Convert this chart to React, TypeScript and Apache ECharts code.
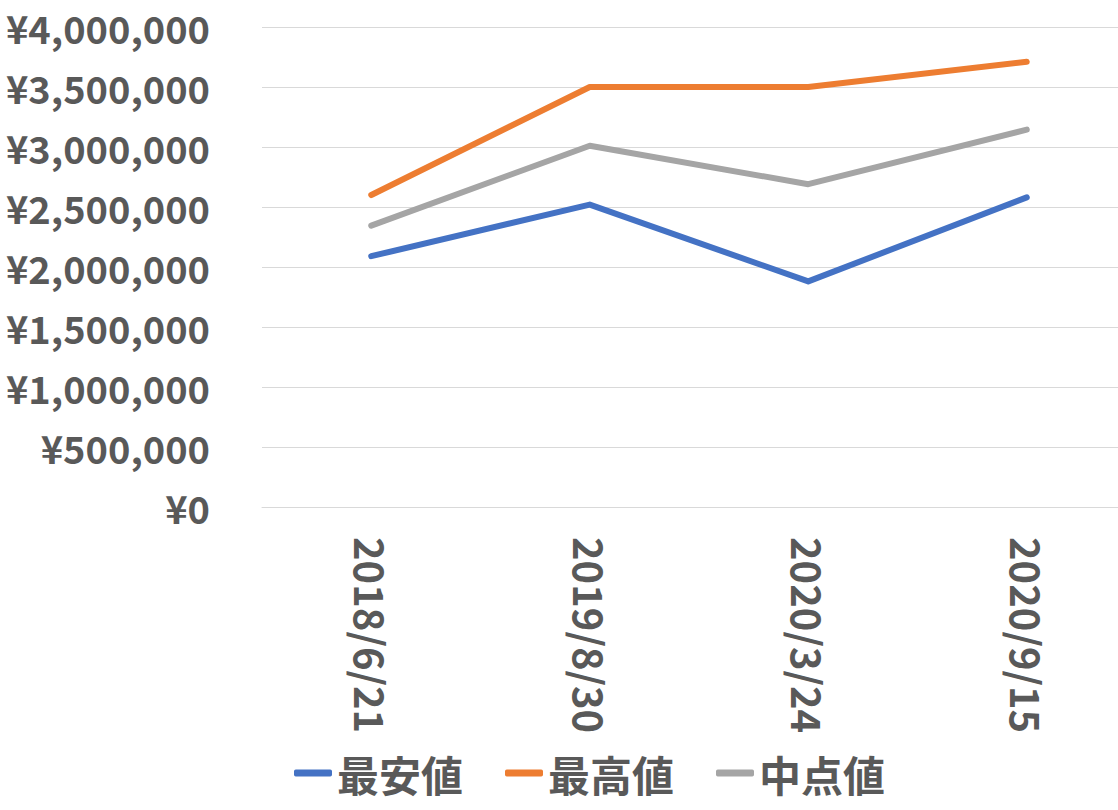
import React, { useEffect, useRef } from "react";
import * as echarts from "echarts";

const categories = ["2018/6/21", "2019/8/30", "2020/3/24", "2020/9/15"];
const seriesNames = ["最安値", "最高値", "中点値"];
const lowValues = [2090000, 2520000, 1880000, 2580000];
const highValues = [2600000, 3500000, 3500000, 3710000];
const midValues = [2345000, 3010000, 2690000, 3145000];
const colors = ["#4472C4", "#ED7D31", "#A5A5A5"];

const FONT = '"Noto Sans CJK JP", "Noto Sans", sans-serif';
const TEXT = "#595959";

export default function App() {
  const ref = useRef<HTMLDivElement>(null);
  useEffect(() => {
    if (!ref.current) return;
    const chart = echarts.init(ref.current, undefined, { renderer: "svg" });
    const data = [lowValues, highValues, midValues];
    chart.setOption({
      animation: false,
      backgroundColor: "#ffffff",
      color: colors,
      grid: { left: 262, right: 4, top: 27, bottom: 303, containLabel: false },
      legend: {
        left: 289,
        top: 747,
        icon: "roundRect",
        itemWidth: 38,
        itemHeight: 7,
        itemGap: 42,
        data: seriesNames,
        textStyle: { color: TEXT, fontSize: 42, fontWeight: "bold", fontFamily: FONT },
      },
      xAxis: {
        type: "category",
        data: categories,
        boundaryGap: true,
        axisLine: { show: true, lineStyle: { color: "#d9d9d9", width: 1 } },
        axisTick: { show: false },
        axisLabel: {
          rotate: -90,
          margin: 30,
          color: TEXT,
          fontSize: 40,
          fontWeight: "bold",
          fontFamily: FONT,
          interval: 0,
        },
      },
      yAxis: {
        type: "value",
        min: 0,
        max: 4000000,
        interval: 500000,
        axisLine: { show: false },
        axisTick: { show: false },
        splitLine: { lineStyle: { color: "#d9d9d9", width: 1 } },
        axisLabel: {
          margin: 52,
          color: TEXT,
          fontSize: 38,
          fontWeight: "bold",
          fontFamily: FONT,
          formatter: (v: number) => "¥" + v.toLocaleString("en-US"),
        },
      },
      series: seriesNames.map((name, i) => ({
        name,
        type: "line",
        data: data[i],
        symbol: "none",
        lineStyle: { width: 6, cap: "round", join: "round", color: colors[i] },
        itemStyle: { color: colors[i] },
      })),
    });
    return () => chart.dispose();
  }, []);
  return (
    <div
      style={{
        position: "fixed",
        left: 0,
        top: 0,
        width: 1118,
        height: 810,
        overflow: "hidden",
        background: "#ffffff",
      }}
    >
      <div ref={ref} style={{ width: 1140, height: 810 }} />
    </div>
  );
}
